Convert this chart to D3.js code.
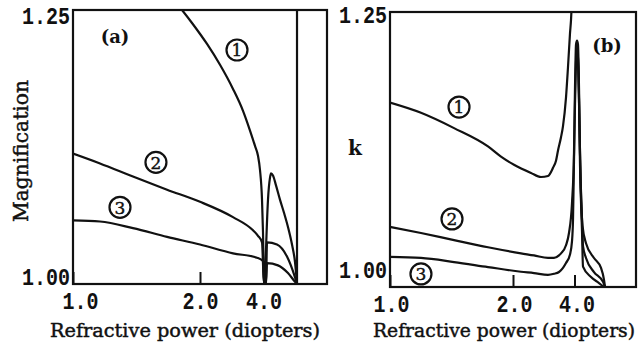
<!DOCTYPE html>
<html>
<head>
<meta charset="utf-8">
<script src="https://cdn.jsdelivr.net/npm/d3@7"></script>
<style>
  body { margin: 0; background: #fff; }
  svg { display: block; }
</style>
</head>
<body>
<svg id="chart" width="643" height="345"></svg>
<script>
// ---- data -------------------------------------------------------------
// x: refractive power in diopters (axis is linear in 1/power)
const powerTicks = [1, 2, 4];
const powerTickLabels = ["1.0", "2.0", "4.0"];
const yTicks = [1.00, 1.25];
const yTickLabels = ["1.00", "1.25"];
const curveNames = ["1", "2", "3"];

// (a) magnification curves, [power, magnification]; null = break in the curve
const magnification1 = [
  [1.64, 1.261], [1.752, 1.250], [1.895, 1.237], [2.117, 1.219], [2.374, 1.200],
  [2.702, 1.178], [3.024, 1.158], [3.299, 1.140], [3.528, 1.126], [3.681, 1.117],
  [3.791, 1.104], [3.908, 1.077], [3.969, 1.047], [4.032, 1.000], [4.097, 1.001],
  [4.164, 1.031], [4.305, 1.077], [4.456, 1.097], [4.536, 1.101], [4.704, 1.099],
  [4.98, 1.090], [5.40, 1.077], [5.907, 1.065], [6.51, 1.052], [7.257, 1.036],
  [7.94, 1.020], [8.47, 1.000], null, [8.47, 1.000], [8.47, 1.26]
];
const magnification2 = [
  [1.0, 1.119], [1.119, 1.110], [1.309, 1.098], [1.588, 1.086], [2.0, 1.075],
  [2.702, 1.061], [3.433, 1.049], [3.681, 1.044], [3.908, 1.038], [4.032, 1.000],
  [4.164, 1.000], [4.233, 1.038], [5.08, 1.036], [6.35, 1.025], [7.94, 1.006],
  [8.47, 1.000]
];
const magnification3 = [
  [1.0, 1.058], [1.119, 1.057], [1.309, 1.051], [1.588, 1.043], [2.0, 1.036],
  [2.702, 1.028], [3.629, 1.024], [3.969, 1.021], [4.032, 1.000], [4.164, 1.000],
  [4.233, 1.019], [5.18, 1.017], [6.51, 1.010], [7.94, 1.002], [8.47, 1.000]
];

// (b) k curves, [power, k]
const k1 = [
  [1.0, 1.161], [1.144, 1.151], [1.352, 1.136], [1.662, 1.118], [1.822, 1.108],
  [2.016, 1.100], [2.343, 1.092], [2.589, 1.088], [2.795, 1.089], [2.964, 1.097],
  [3.075, 1.104], [3.154, 1.114], [3.280, 1.127], [3.370, 1.138], [3.514, 1.166],
  [3.618, 1.196], [3.727, 1.229], [3.785, 1.242], [3.844, 1.262], null,
  [4.20, 1.218], [4.27, 1.19], [4.35, 1.14], [4.45, 1.08], [4.60, 1.04],
  [4.92, 1.023], [5.857, 1.0085], [7.029, 0.9987], [7.69, 0.987], [7.94, 0.980]
];
const k2 = [
  [1.0, 1.039], [1.144, 1.033], [1.352, 1.026], [1.662, 1.019], [2.139, 1.013],
  [2.412, 1.011], [2.795, 1.0085], [3.0, 1.0085], [3.195, 1.011], [3.280, 1.013],
  [3.514, 1.021], [3.671, 1.033], [3.844, 1.0625], [3.968, 1.112], [4.033, 1.176],
  [4.10, 1.218], [4.17, 1.222], [4.241, 1.218], [4.316, 1.176], [4.393, 1.112],
  [4.556, 1.046], [4.642, 1.02], [4.92, 1.0085], [5.857, 0.9947], [7.46, 0.985],
  [7.94, 0.980]
];
const k3 = [
  [1.0, 1.0095], [1.144, 1.0085], [1.352, 1.0045], [1.662, 0.9996], [2.139, 0.995],
  [2.412, 0.9937], [2.795, 0.992], [3.0, 0.993], [3.195, 0.9947], [3.514, 1.0036],
  [3.727, 1.012], [3.844, 1.025], [3.905, 1.046], [3.968, 1.105], [4.033, 1.16],
  [4.10, 1.20], [4.17, 1.214], [4.241, 1.205], [4.316, 1.165], [4.393, 1.10],
  [4.556, 1.035], [4.642, 1.0], [5.467, 0.9898], [6.649, 0.9839], [7.69, 0.980]
];

// circled curve numbers, placed in data coordinates
const magnificationMarkers = [[2.822, 1.2135], [1.485, 1.111], [1.227, 1.070]];
const kMarkers = [[1.390, 1.1567], [1.337, 1.0468], [1.144, 0.9928]];

// ---- drawing ----------------------------------------------------------
const svg = d3.select("#chart");
const ink = "#111";
const tickFont = "'Liberation Mono', 'DejaVu Sans Mono', monospace";
const serif = "'DejaVu Serif', 'Liberation Serif', serif";

function drawPanel(cfg) {
  const g = svg.append("g");
  const x = d3.scalePow().exponent(-1).domain([1, 1e6]).range([cfg.left, cfg.right]);
  const y = d3.scaleLinear().domain(cfg.yDomain).range([cfg.bottom, cfg.top]);

  const clipId = "clip-" + cfg.id;
  svg.append("defs").append("clipPath").attr("id", clipId)
    .append("rect")
    .attr("x", cfg.left).attr("y", cfg.top)
    .attr("width", cfg.right - cfg.left).attr("height", cfg.bottom - cfg.top);

  const line = d3.line()
    .defined(d => d !== null)
    .x(d => x(d[0]))
    .y(d => y(d[1]))
    .curve(d3.curveMonotoneX);

  g.append("g").attr("clip-path", `url(#${clipId})`)
    .selectAll("path")
    .data(cfg.series)
    .join("path")
    .attr("d", d => line(d))
    .attr("fill", "none")
    .attr("stroke", ink)
    .attr("stroke-width", 2.2)
    .attr("stroke-linejoin", "round");

  // frame
  g.append("rect")
    .attr("x", cfg.left).attr("y", cfg.top)
    .attr("width", cfg.right - cfg.left).attr("height", cfg.bottom - cfg.top)
    .attr("fill", "none").attr("stroke", ink).attr("stroke-width", 2.2);

  // x axis: inward ticks
  const xAxis = g.append("g")
    .attr("transform", `translate(0,${cfg.bottom})`)
    .call(d3.axisBottom(x)
      .tickValues(powerTicks)
      .tickFormat((d, i) => powerTickLabels[i])
      .tickSizeInner(-12).tickSizeOuter(0).tickPadding(9));
  xAxis.select(".domain").remove();
  xAxis.selectAll(".tick line").attr("stroke", ink).attr("stroke-width", 2);
  xAxis.selectAll(".tick text")
    .attr("fill", ink)
    .attr("font-family", tickFont).attr("font-weight", "bold").attr("font-size", 23)
    .attr("textLength", 36).attr("lengthAdjust", "spacingAndGlyphs")
    .attr("dx", (d, i) => cfg.xLabelShift[i]);

  // y axis: labels only
  const yAxis = g.append("g")
    .attr("transform", `translate(${cfg.left},0)`)
    .call(d3.axisLeft(y)
      .tickValues(yTicks)
      .tickFormat((d, i) => yTickLabels[i])
      .tickSize(0).tickPadding(3));
  yAxis.select(".domain").remove();
  yAxis.selectAll(".tick text")
    .attr("fill", ink)
    .attr("font-family", tickFont).attr("font-weight", "bold").attr("font-size", 23)
    .attr("textLength", 48).attr("lengthAdjust", "spacingAndGlyphs")
    .attr("y", (d, i) => cfg.yLabelShift[i]);

  // circled curve numbers
  const marks = g.selectAll(".marker")
    .data(cfg.markers)
    .join("g")
    .attr("transform", d => `translate(${x(d[0])},${y(d[1])})`);
  marks.append("circle")
    .attr("r", 10.5).attr("fill", "#fff")
    .attr("stroke", ink).attr("stroke-width", 2.2);
  marks.append("text")
    .text((d, i) => curveNames[i])
    .attr("text-anchor", "middle").attr("dy", "0.37em")
    .attr("font-family", serif).attr("font-size", 17).attr("fill", ink)
    .attr("stroke", ink).attr("stroke-width", 0.4);

  // axis title
  g.append("text")
    .attr("x", cfg.titleX).attr("y", 337)
    .attr("text-anchor", "middle")
    .attr("font-family", serif).attr("font-size", 18.5).attr("fill", ink)
    .attr("stroke", ink).attr("stroke-width", 0.45)
    .attr("textLength", cfg.titleLength).attr("lengthAdjust", "spacingAndGlyphs")
    .text("Refractive power (diopters)");

  // panel tag
  g.append("text")
    .attr("x", cfg.tag[0]).attr("y", cfg.tag[1])
    .attr("text-anchor", "middle")
    .attr("font-family", serif).attr("font-weight", "bold").attr("font-size", 18)
    .attr("fill", ink)
    .text(cfg.tagText);

  return { x, y };
}

drawPanel({
  id: "a", left: 73, right: 327, top: 10, bottom: 284,
  yDomain: [1.00, 1.25],
  series: [magnification1, magnification2, magnification3],
  markers: magnificationMarkers,
  xLabelShift: [7, 0, 0],
  yLabelShift: [-7, 6],
  titleX: 185, titleLength: 270,
  tag: [115, 43], tagText: "(a)"
});

drawPanel({
  id: "b", left: 390, right: 636, top: 12, bottom: 287,
  yDomain: [0.98, 1.25],
  series: [k1, k2, k3],
  markers: kMarkers,
  xLabelShift: [1, 1, 2],
  yLabelShift: [3, 3],
  titleX: 504, titleLength: 262,
  tag: [607, 52], tagText: "(b)"
});

// y-axis titles
svg.append("text")
  .attr("transform", "translate(28,151) rotate(-90)")
  .attr("text-anchor", "middle")
  .attr("font-family", serif).attr("font-size", 20).attr("fill", ink)
  .attr("stroke", ink).attr("stroke-width", 0.45)
  .attr("textLength", 142).attr("lengthAdjust", "spacingAndGlyphs")
  .text("Magnification");

svg.append("text")
  .attr("x", 355).attr("y", 155)
  .attr("text-anchor", "middle")
  .attr("font-family", serif).attr("font-weight", "bold").attr("font-size", 20)
  .attr("fill", ink)
  .text("k");
</script>
</body>
</html>
